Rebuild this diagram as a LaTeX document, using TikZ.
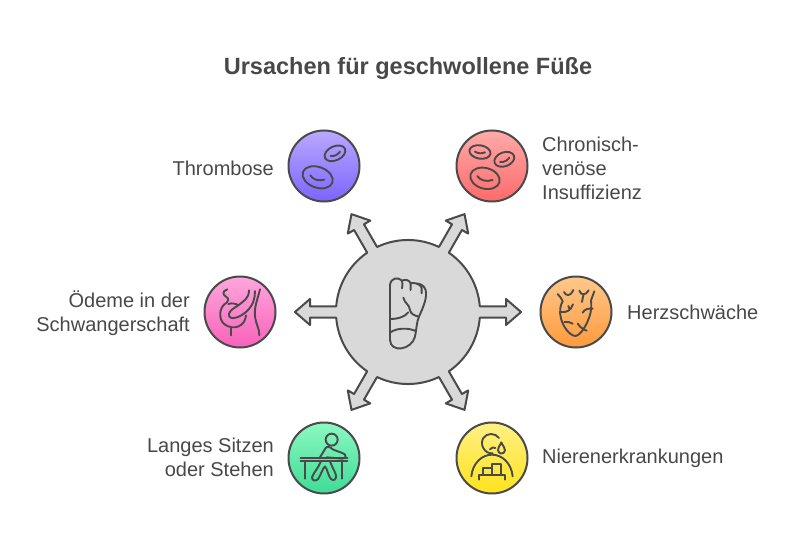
\documentclass[tikz,border=0pt]{standalone}
\usepackage{xcolor}
\usepackage{fontspec}
\setmainfont{Liberation Sans}
\definecolor{ink}{HTML}{4A4A4A}
\definecolor{txt}{HTML}{484848}
\definecolor{purpleA}{HTML}{B9A9FF}
\definecolor{purpleB}{HTML}{7C64FF}
\definecolor{redA}{HTML}{FFAAAA}
\definecolor{redB}{HTML}{FF6A6A}
\definecolor{orangeA}{HTML}{FFC88C}
\definecolor{orangeB}{HTML}{FF9A3C}
\definecolor{pinkA}{HTML}{FFA6DD}
\definecolor{pinkB}{HTML}{F862BA}
\definecolor{greenA}{HTML}{8CF8C2}
\definecolor{greenB}{HTML}{3EDC96}
\definecolor{yellowA}{HTML}{FFF084}
\definecolor{yellowB}{HTML}{FFE31C}
\tikzset{
    bubble/.style 2 args={circle, draw=ink, line width=2pt, minimum size=71pt, inner sep=0pt, top color=#1, bottom color=#2},
    lbl/.style={text=txt, inner sep=0pt, font=\fontsize{20}{24}\selectfont},
    icon/.style={shift={(#1)}, x=0.3333pt, y=-0.3333pt, draw=ink, line width=1.9pt, line cap=round, line join=round},
}

\begin{document}
\begin{tikzpicture}[x=1pt, y=1pt]
    \useasboundingbox (0, 0) rectangle (792, 542);

    \node[text=txt, inner sep=0pt, font=\fontsize{23.5}{27}\selectfont\bfseries] at (408, 474) (title) {Ursachen für geschwollene Füße};

    % hub with its six arrows, one outline
    \node[circle, minimum size=144pt, inner sep=0pt] at (408, 230) (hub) {};
    \begin{scope}[shift={(hub.center)}]
        \draw[draw=ink, line width=2pt, fill=black!15, line join=round] (71.8, -5.7)
            foreach \a in {0,60,...,300} {
                -- ([rotate=\a]98, -5.7) -- ([rotate=\a]98, -13) -- ([rotate=\a]113, 0)
                -- ([rotate=\a]98, 13) -- ([rotate=\a]98, 5.7) -- ([rotate=\a]71.8, 5.7)
                arc[start angle=\a+4.54, end angle=\a+55.46, radius=72]
            } -- cycle;
    \end{scope}

    \node[bubble={purpleA}{purpleB}] at (324, 376) (thrombose) {};
    \node[bubble={redA}{redB}] at (492, 376) (chronisch) {};
    \node[bubble={orangeA}{orangeB}] at (576, 230) (herz) {};
    \node[bubble={pinkA}{pinkB}] at (240, 230) (oedeme) {};
    \node[bubble={greenA}{greenB}] at (324, 84) (sitzen) {};
    \node[bubble={yellowA}{yellowB}] at (492, 84) (niere) {};

    \node[lbl, anchor=east] at (274, 374) (Lthrombose) {Thrombose};
    \node[lbl, anchor=west, align=left] at (542, 374) (Lchronisch) {Chronisch-\\venöse\\Insuffizienz};
    \node[lbl, anchor=west] at (627, 230) (Lherz) {Herzschwäche};
    \node[lbl, anchor=east, align=right] at (190, 229) (Loedeme) {Ödeme in der\\Schwangerschaft};
    \node[lbl, anchor=east, align=right] at (274, 85) (Lsitzen) {Langes Sitzen\\oder Stehen};
    \node[lbl, anchor=west] at (542, 84) (Lniere) {Nierenerkrankungen};

    % foot
    \begin{scope}[icon={370, 277}]
        \draw (60, 60) -- (60, 225) .. controls (62, 265) and (125, 255) .. (135, 215)
            .. controls (140, 190) and (140, 170) .. (147, 155) .. controls (160, 125) and (172, 100) .. (167, 75)
            .. controls (163, 62) and (150, 55) .. (140, 56);
        \draw (60, 60) .. controls (62, 38) and (85, 35) .. (96, 47) .. controls (100, 55) and (96, 62) .. (96, 70);
        \draw (96, 47) .. controls (105, 42) and (118, 45) .. (122, 55) -- (122, 75);
        \draw (122, 55) .. controls (130, 52) and (150, 55) .. (155, 68) -- (155, 85);
        \draw (60, 162) .. controls (85, 162) and (105, 155) .. (115, 142);
        \draw (100, 98) .. controls (104, 115) and (118, 118) .. (120, 135) .. controls (122, 148) and (135, 152) .. (147, 155);
        \draw (60, 203) .. controls (80, 188) and (115, 188) .. (137, 198);
    \end{scope}

    % thrombose cells
    \begin{scope}[icon={285, 414}]
        \draw[shift={(150, 76)}, rotate=25] (0, 0) ellipse [x radius=33, y radius=21];
        \draw[shift={(98, 148)}, rotate=-20] (0, 0) ellipse [x radius=47, y radius=31];
        \draw (137, 84) .. controls (148, 86) and (158, 80) .. (165, 71);
        \draw (76, 142) .. controls (84, 155) and (100, 160) .. (118, 155);
    \end{scope}

    % chronisch cells
    \begin{scope}[icon={270, 422}]
        \draw[shift={(630, 96)}, rotate=-10] (0, 0) ellipse [x radius=32, y radius=20];
        \draw[shift={(703, 118)}, rotate=20] (0, 0) ellipse [x radius=31, y radius=21];
        \draw[shift={(645, 175)}, rotate=-15] (0, 0) ellipse [x radius=45, y radius=31];
        \draw (615, 95) .. controls (622, 100) and (636, 102) .. (645, 97);
        \draw (690, 126) .. controls (700, 128) and (712, 122) .. (718, 113);
        \draw (622, 168) .. controls (630, 182) and (650, 186) .. (668, 180);
    \end{scope}

    % heart
    \begin{scope}[icon={536, 270}]
        \draw (65, 66) .. controls (72, 75) and (78, 80) .. (80, 88) .. controls (72, 100) and (70, 120) .. (75, 140)
            .. controls (82, 165) and (100, 190) .. (118, 192) .. controls (135, 190) and (155, 155) .. (163, 125)
            .. controls (168, 105) and (165, 90) .. (165, 85) -- (175, 58);
        \draw (84, 60) .. controls (90, 72) and (102, 75) .. (112, 54);
        \draw (130, 56) .. controls (135, 70) and (148, 72) .. (158, 55);
        \draw (142, 70) -- (138, 90);
        \draw (76, 120) .. controls (92, 122) and (105, 115) .. (111, 97);
        \draw (97, 102) -- (101, 112);
        \draw (140, 122) .. controls (145, 112) and (158, 108) .. (170, 110);
        \draw (85, 150) .. controls (95, 149) and (103, 150) .. (110, 155);
        \draw (125, 155) .. controls (132, 165) and (140, 172) .. (152, 176);
    \end{scope}

    % pregnant belly
    \begin{scope}[icon={200, 270}]
        \draw (82, 52) .. controls (66, 58) and (68, 68) .. (78, 74) .. controls (88, 80) and (86, 88) .. (80, 92)
            .. controls (55, 105) and (55, 145) .. (75, 158) .. controls (100, 175) and (135, 165) .. (138, 130);
        \draw (147, 55) .. controls (147, 80) and (130, 88) .. (112, 102) .. controls (95, 112) and (82, 122) .. (88, 134)
            .. controls (95, 145) and (120, 135) .. (138, 120) .. controls (160, 100) and (165, 80) .. (165, 57);
        \draw (85, 96) .. controls (95, 92) and (108, 95) .. (115, 100);
        \draw (180, 52) .. controls (172, 85) and (160, 110) .. (166, 140) .. controls (170, 160) and (178, 170) .. (178, 190);
        \draw (92, 165) -- (92, 190);
    \end{scope}

    % person at desk
    \begin{scope}[icon={285, 124}]
        \draw (140, 65) circle [radius=18];
        \draw (47, 120) -- (187, 120);
        \draw (47, 130) -- (187, 130);
        \draw (60, 130) -- (60, 182);
        \draw (172, 130) -- (172, 182);
        \draw (105, 118) -- (122, 90) .. controls (128, 82) and (135, 88) .. (145, 95) -- (172, 105)
            .. controls (185, 108) and (185, 122) .. (172, 122) -- (125, 118);
        \draw (108, 130) .. controls (100, 150) and (85, 165) .. (81, 178) .. controls (80, 190) and (95, 190) .. (100, 182)
            .. controls (108, 170) and (112, 152) .. (120, 145) .. controls (128, 155) and (130, 175) .. (138, 183)
            .. controls (145, 190) and (155, 185) .. (153, 172) .. controls (150, 160) and (140, 145) .. (135, 130);
    \end{scope}

    % person with tear
    \begin{scope}[icon={452, 124}]
        \draw (141, 60) .. controls (130, 44) and (104, 44) .. (94, 60) .. controls (82, 80) and (98, 108) .. (122, 106);
        \draw (114, 94) .. controls (118, 88) and (125, 87) .. (130, 90);
        \draw (148, 73) .. controls (143, 85) and (136, 90) .. (138, 97) .. controls (140, 110) and (157, 110) .. (159, 97)
            .. controls (160, 90) and (153, 85) .. (148, 73);
        \draw (58, 175) .. controls (62, 135) and (90, 110) .. (120, 110) .. controls (150, 110) and (178, 135) .. (182, 175);
        \draw (80, 185) -- (80, 171) -- (160, 171) -- (160, 185);
        \draw (92, 171) -- (92, 151) -- (120, 151) -- (120, 171);
        \draw (120, 151) -- (120, 138) -- (147, 138) -- (147, 171);
    \end{scope}
\end{tikzpicture}
\end{document}
